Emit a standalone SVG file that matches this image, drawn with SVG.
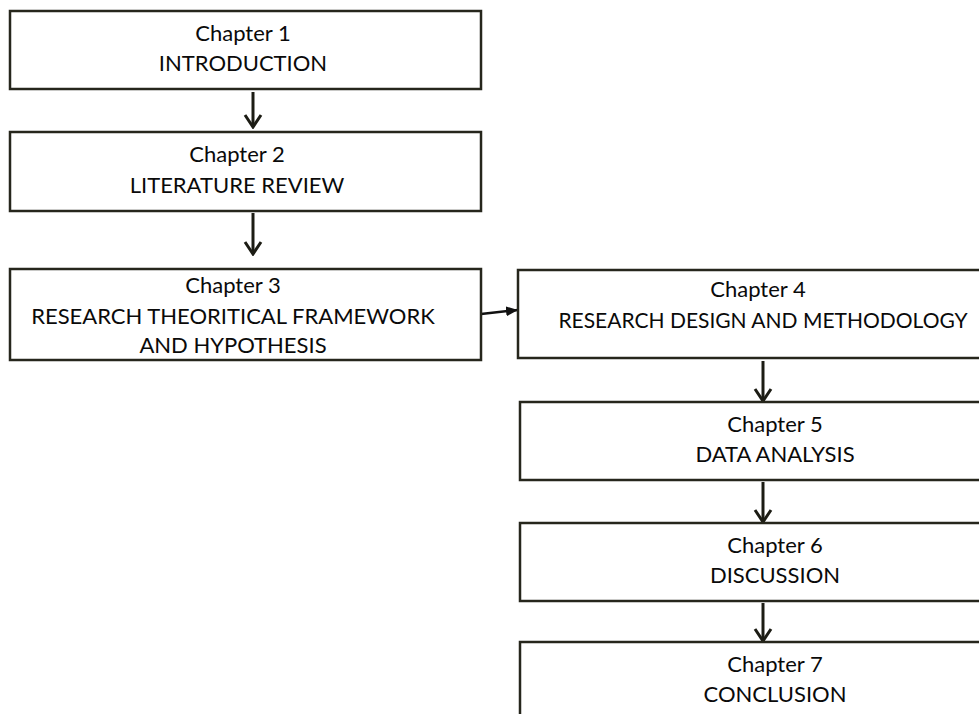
<svg xmlns="http://www.w3.org/2000/svg" width="979" height="714" viewBox="0 0 979 714">
  <style>
    .box { fill: #ffffff; stroke: #26261c; stroke-width: 2.5; }
    .lbl { font-family: "Lato", "Liberation Sans", sans-serif; font-size: 22px; fill: #0a0a0a; text-anchor: middle; }
    .flow { stroke: #1c1c14; stroke-width: 3; fill: none; }
    .side { stroke: #111111; stroke-width: 2.5; fill: none; }
  </style>
  <defs>
    <!-- open chevron head for the vertical flow arrows -->
    <marker id="chev" viewBox="0 0 16 20" refX="14" refY="10" markerWidth="16" markerHeight="20" markerUnits="userSpaceOnUse" orient="auto">
      <path d="M2,2 L14,10 L2,18" fill="none" stroke="#1c1c14" stroke-width="3" stroke-linejoin="miter"/>
    </marker>
    <!-- small solid tip for the side link -->
    <marker id="tip" viewBox="0 0 12 10" refX="12" refY="5" markerWidth="12" markerHeight="10" markerUnits="userSpaceOnUse" orient="auto">
      <path d="M0,0 L12,5 L0,10 Z" fill="#111111"/>
    </marker>
  </defs>
  <rect width="979" height="714" fill="#ffffff"/>

  <g id="connectors">
    <path class="flow" d="M253,92 V127" marker-end="url(#chev)"/>
    <path class="flow" d="M253,213 V254" marker-end="url(#chev)"/>
    <path class="side" d="M481,314 L518,310" marker-end="url(#tip)"/>
    <path class="flow" d="M763,361 V401" marker-end="url(#chev)"/>
    <path class="flow" d="M763,482 V522" marker-end="url(#chev)"/>
    <path class="flow" d="M763,603 V641" marker-end="url(#chev)"/>
  </g>

  <g id="chapter1">
    <rect class="box" x="10" y="11" width="471" height="78"/>
    <text class="lbl" x="243" y="41">Chapter 1</text>
    <text class="lbl" x="243" y="71">INTRODUCTION</text>
  </g>
  <g id="chapter2">
    <rect class="box" x="10" y="132" width="471" height="79"/>
    <text class="lbl" x="237" y="162">Chapter 2</text>
    <text class="lbl" x="237" y="193">LITERATURE REVIEW</text>
  </g>
  <g id="chapter3">
    <rect class="box" x="10" y="269" width="471" height="91"/>
    <text class="lbl" x="233" y="293">Chapter 3</text>
    <text class="lbl" x="233" y="324">RESEARCH THEORITICAL FRAMEWORK</text>
    <text class="lbl" x="233" y="353">AND HYPOTHESIS</text>
  </g>
  <g id="chapter4">
    <rect class="box" x="518" y="270" width="480" height="88"/>
    <text class="lbl" x="758" y="297">Chapter 4</text>
    <text class="lbl" x="763" y="328" style="font-size:21px">RESEARCH DESIGN AND METHODOLOGY</text>
  </g>
  <g id="chapter5">
    <rect class="box" x="520" y="402" width="480" height="78"/>
    <text class="lbl" x="775" y="432">Chapter 5</text>
    <text class="lbl" x="775" y="462">DATA ANALYSIS</text>
  </g>
  <g id="chapter6">
    <rect class="box" x="520" y="523" width="480" height="78"/>
    <text class="lbl" x="775" y="553">Chapter 6</text>
    <text class="lbl" x="775" y="583">DISCUSSION</text>
  </g>
  <g id="chapter7">
    <rect class="box" x="520" y="642" width="480" height="90"/>
    <text class="lbl" x="775" y="672">Chapter 7</text>
    <text class="lbl" x="775" y="702">CONCLUSION</text>
  </g>
</svg>
